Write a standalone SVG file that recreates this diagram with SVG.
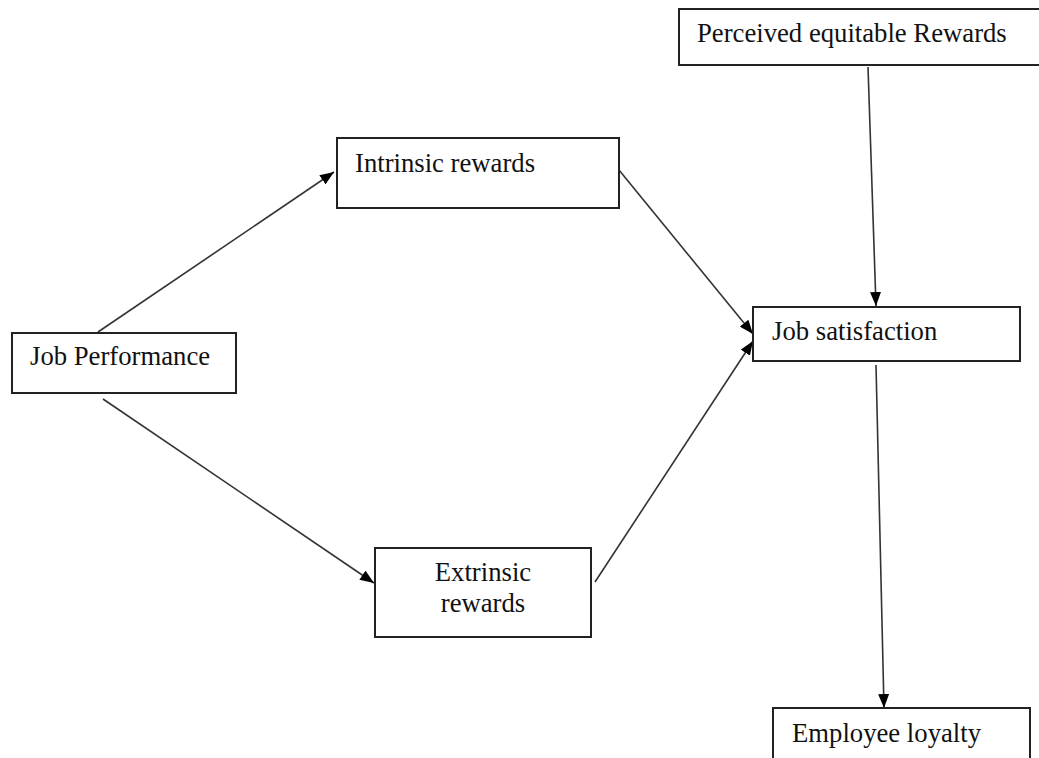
<svg xmlns="http://www.w3.org/2000/svg" width="1039" height="758" viewBox="0 0 1039 758">
  <style>
    .box { fill: #ffffff; stroke: #222222; stroke-width: 2; }
    .lbl { font-family: "Liberation Serif", "Times New Roman", serif; font-size: 26.7px; fill: #111111; }
    .edge { fill: none; stroke: #333333; stroke-width: 1.6; marker-end: url(#head); }
  </style>
  <defs>
    <marker id="head" markerUnits="userSpaceOnUse" viewBox="0 0 14 11" refX="14" refY="5.5" markerWidth="14" markerHeight="11" orient="auto">
      <path d="M0,0 L14,5.5 L0,11 Z" fill="#000000"/>
    </marker>
  </defs>
  <rect width="1039" height="758" fill="#ffffff"/>

  <!-- arrows between the boxes -->
  <g id="connectors">
    <line class="edge" x1="98" y1="332" x2="334" y2="172"/>
    <line class="edge" x1="103" y1="399" x2="374" y2="583"/>
    <line class="edge" x1="619" y1="170" x2="753" y2="334"/>
    <line class="edge" x1="595" y1="582" x2="753" y2="341"/>
    <line class="edge" x1="868" y1="67" x2="876" y2="306"/>
    <line class="edge" x1="876" y1="365" x2="884" y2="708"/>
  </g>

  <g id="perceived-rewards">
    <rect class="box" x="679" y="9" width="370" height="56"/>
    <text class="lbl" x="697" y="42">Perceived equitable Rewards</text>
  </g>

  <g id="intrinsic-rewards">
    <rect class="box" x="337" y="138" width="282" height="70"/>
    <text class="lbl" x="355" y="172">Intrinsic rewards</text>
  </g>

  <g id="job-performance">
    <rect class="box" x="12" y="333" width="224" height="60"/>
    <text class="lbl" x="30" y="365">Job Performance</text>
  </g>

  <g id="job-satisfaction">
    <rect class="box" x="753" y="307" width="267" height="54"/>
    <text class="lbl" x="772" y="340">Job satisfaction</text>
  </g>

  <g id="extrinsic-rewards">
    <rect class="box" x="375" y="548" width="216" height="89"/>
    <text class="lbl" x="483" y="581" text-anchor="middle">Extrinsic</text>
    <text class="lbl" x="483" y="612" text-anchor="middle">rewards</text>
  </g>

  <g id="employee-loyalty">
    <rect class="box" x="773" y="708" width="257" height="60"/>
    <text class="lbl" x="792" y="742">Employee loyalty</text>
  </g>
</svg>
